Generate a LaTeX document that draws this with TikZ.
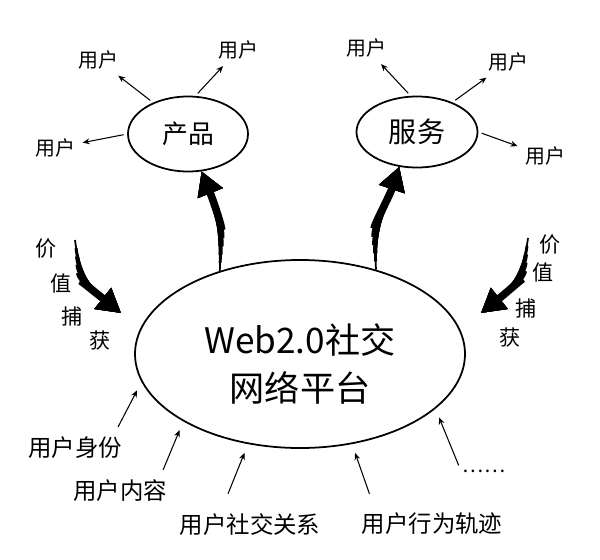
\documentclass[tikz,border=0pt]{standalone}
\usepackage{fontspec}
\setmainfont{Noto Sans CJK SC}
\usetikzlibrary{arrows,arrows.meta,shapes.geometric,positioning}

\begin{document}
\begin{tikzpicture}[x=0.03cm, y=-0.03cm, >={Stealth[length=6pt,width=5pt]}, semithick,
  bubble/.style={ellipse, draw, line width=1.5pt, inner sep=0pt},
  usr/.style={font=\fontsize{17}{20}\selectfont},
  src/.style={font=\fontsize{20}{24}\selectfont},
  val/.style={font=\fontsize{18}{22}\selectfont},
  usrarrow/.style={->, line width=0.9pt, shorten >=3pt, shorten <=3pt},
  srcarrow/.style={->, line width=0.9pt, shorten >=8pt},
  bigarrow/.style={-{Triangle[length=20pt,width=22pt]}}]
\useasboundingbox (0,0) rectangle (600,559);

% platform and what it offers
\node[bubble, minimum width=9.9cm, minimum height=5.64cm, align=center,
      font=\fontsize{30}{41}\selectfont] (web) at (300,354) {\rule{0pt}{43pt}Web2.0社交\\网络平台};
\node[bubble, minimum width=3.6cm, minimum height=2.25cm,
      font=\fontsize{22}{26}\selectfont] (prod) at (188,134) {产品};
\node[bubble, minimum width=3.63cm, minimum height=2.13cm,
      font=\fontsize{24}{28}\selectfont] (serv) at (417,132) {服务};

% users of the product
\node[usr] (u1) at (98,60) {用户};
\node[usr] (u2) at (238,50) {用户};
\node[usr] (u3) at (55,148) {用户};
\draw[usrarrow] (prod.138) -- (u1);
\draw[usrarrow] (prod.79) -- (u2);
\draw[usrarrow] (prod.180) -- (u3);

% users of the service
\node[usr] (u4) at (366,48) {用户};
\node[usr] (u5) at (508,62) {用户};
\node[usr] (u6) at (545,156) {用户};
\draw[usrarrow] (serv.100) -- (u4);
\draw[usrarrow] (serv.40) -- (u5);
\draw[usrarrow] (serv.0) -- (u6);

% thick arrows, drawn in layers so they taper
\foreach \w/\s in {1.5/0, 2.5/7, 3.5/14, 4.5/21, 5.5/28, 6.5/35} {
  \draw[bigarrow, line width=\w pt, shorten <=\s pt]
    (web.134) .. controls +(2,-45) and +(12,30) .. (prod.290);
  \draw[bigarrow, line width=\w pt, shorten <=\s pt]
    (web.48) .. controls +(-2,-45) and +(-10,30) .. (serv.243);
}

% value capture, both sides
\foreach \c/\x/\y [count=\i] in {价/46/249, 值/61/283, 捕/72/316, 获/100/341}
  \node[val] (vl\i) at (\x,\y) {\c};
\foreach \c/\x/\y [count=\i] in {价/550/245, 值/543/272, 捕/526/308, 获/510/338}
  \node[val] (vr\i) at (\x,\y) {\c};
\coordinate (lvs) at (75,240);
\coordinate (lve) at (121,313);
\coordinate (rvs) at (528,238);
\coordinate (rve) at (481,313);
\foreach \w/\s in {1.5/0, 2.5/7, 3.5/14, 4.5/21, 5.5/28, 6.5/35} {
  \draw[bigarrow, line width=\w pt, shorten <=\s pt]
    (lvs) .. controls +(5,40) and +(-25,-20) .. (lve);
  \draw[bigarrow, line width=\w pt, shorten <=\s pt]
    (rvs) .. controls +(-5,40) and +(25,-20) .. (rve);
}

% what the users bring in
\node[src] (lid) at (75,448) {用户身份};
\node[src] (lco) at (120,491) {用户内容};
\node[src] (lsr) at (250,525) {用户社交关系};
\node[src] (lbt) at (432,524) {用户行为轨迹};
\node[usr] (lmore) at (484,471) {……};
\draw[srcarrow] ([shift={(-8,-6)}]lid.north east) -- (web.190);
\draw[srcarrow] ([shift={(-8,-6)}]lco.north east) -- (web.210);
\draw[srcarrow] ([shift={(-22,-16)}]lsr.north) -- (web.240);
\draw[srcarrow] ([shift={(12,-15)}]lbt.north west) -- (web.300);
\draw[srcarrow] (lmore.north west) -- (web.338);
\end{tikzpicture}
\end{document}
